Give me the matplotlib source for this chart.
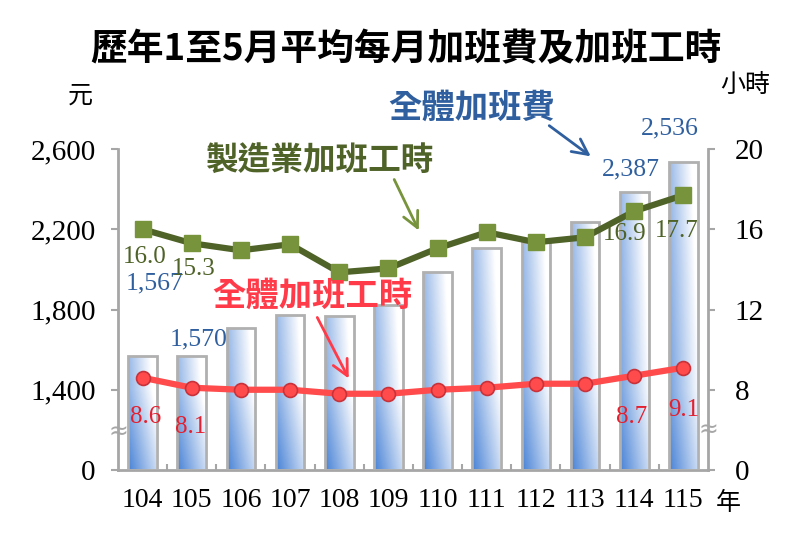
import numpy as np
import matplotlib
matplotlib.use("Agg")
import matplotlib.pyplot as plt
from matplotlib.colors import to_rgb

plt.rcParams['font.family'] = ['Liberation Serif', 'Noto Sans CJK TC', 'DejaVu Sans']
CJK = ['Noto Sans CJK TC', 'DejaVu Sans']

years = ['104', '105', '106', '107', '108', '109', '110', '111', '112', '113', '114', '115']
pay = [1567, 1570, 1710, 1775, 1770, 1820, 1985, 2105, 2135, 2235, 2387, 2536]
mfg_hours = [16.0, 15.3, 14.95, 15.25, 13.85, 14.05, 15.05, 15.85, 15.35, 15.6, 16.9, 17.7]
all_hours = [8.6, 8.1, 8.0, 8.0, 7.6, 7.6, 8.0, 8.1, 8.3, 8.3, 8.7, 9.1]

left_ticks = [0, 1400, 1800, 2200, 2600]
left_labels = ['0', '1,400', '1,800', '2,200', '2,600']
right_ticks = [0, 8, 12, 16, 20]

# labelled points: index -> offset in pixels (dx, dy)
pay_lab = {0: (12, 73), 1: (7, 16), 10: (-3, 22), 11: (-14, 33)}
mfg_lab = {0: (2, -28), 1: (2, -26), 10: (-10, -23), 11: (-7, -36)}
all_lab = {0: (3, -39), 1: (-1, -39), 10: (-3, -41), 11: (0, -42)}

GRAY = '#a6a6a6'
BLUE_T = '#2f5f9e'
GREEN = '#4f6228'
GREEN_M = '#77933c'
RED = '#ff4b4b'
RED_T = '#e3202f'


# broken axes: 0..1400 squeezed into one step, then 400 per step
def fwd_l(v):
    v = np.asarray(v, dtype=float)
    return np.where(v < 1400, v / 1400, (v - 1000) / 400)


def inv_l(p):
    p = np.asarray(p, dtype=float)
    return np.where(p < 1, p * 1400, p * 400 + 1000)


def fwd_r(h):
    h = np.asarray(h, dtype=float)
    return np.where(h < 8, h / 8, (h - 4) / 4)


def inv_r(p):
    p = np.asarray(p, dtype=float)
    return np.where(p < 1, p * 8, p * 4 + 4)


fig = plt.figure(figsize=(8.12, 5.52), dpi=100)
ax = fig.add_axes([118 / 812, 1 - 470 / 552, 590 / 812, 321 / 552])
ax.set_yscale('function', functions=(fwd_l, inv_l))
ax.set_ylim(0, 2600)
ax.set_xlim(-0.5, len(years) - 0.5)

x = np.arange(len(years))
bars = ax.bar(x, pay, width=0.58, facecolor='none', edgecolor='#b0b0b0', linewidth=2, zorder=3)

# gradient fill: blue at bottom-left to white at top-right
u = np.linspace(0, 1, 40)[None, :]
w = np.linspace(0, 1, 80)[:, None]
t = np.clip(0.7 * u + 0.45 * w, 0, 1)
blue = np.array(to_rgb('#4a84d6'))
grad = blue[None, None, :] * (1 - t[..., None]) + np.ones(3)[None, None, :] * t[..., None]
for b in bars:
    x0 = b.get_x()
    im = ax.imshow(grad, extent=(x0, x0 + b.get_width(), 0, b.get_height()),
                   origin='lower', aspect='auto', zorder=2, interpolation='bilinear')
    im.set_clip_path(b)
ax.set_xlim(-0.5, len(years) - 0.5)
ax.set_ylim(0, 2600)

for i, (dx, dy) in pay_lab.items():
    ax.annotate(f'{pay[i]:,}', xy=(i, pay[i]), xytext=(dx, dy), textcoords='offset pixels',
                ha='center', va='center', fontsize=18.5, color=BLUE_T, zorder=6)

ax.set_yticks(left_ticks)
ax.set_yticklabels(left_labels)
ax.set_xticks(x)
ax.set_xticklabels(years)
ax.set_xticks(np.arange(0.5, len(years) - 1, 1), minor=True)
ax.tick_params(axis='x', which='major', length=0, pad=13, labelsize=20)
ax.tick_params(axis='x', which='minor', direction='in', length=4, width=1.5, color=GRAY)
ax.tick_params(axis='y', direction='out', length=5, width=1.5, color=GRAY, pad=11, labelsize=21)
for s in ['top', 'right']:
    ax.spines[s].set_visible(False)
for s in ['left', 'bottom']:
    ax.spines[s].set_color(GRAY)
    ax.spines[s].set_linewidth(2)

ax2 = ax.twinx()
ax2.set_yscale('function', functions=(fwd_r, inv_r))
ax2.set_ylim(0, 20)
ax2.set_yticks(right_ticks)
ax2.set_yticklabels([str(v) for v in right_ticks])
ax2.tick_params(axis='y', direction='out', length=5, width=1.5, color=GRAY, pad=14, labelsize=21)
for s in ['top', 'left', 'bottom']:
    ax2.spines[s].set_visible(False)
ax2.spines['right'].set_color(GRAY)
ax2.spines['right'].set_linewidth(2)

ax2.plot(x, mfg_hours, color=GREEN, lw=4.5, marker='s', markersize=11,
         markerfacecolor=GREEN_M, markeredgecolor=GREEN_M, zorder=4)
ax2.plot(x, all_hours, color=RED, lw=4.5, marker='o', markersize=10,
         markerfacecolor=RED, markeredgecolor='#c8323a', markeredgewidth=1.2, zorder=4)

for i, (dx, dy) in mfg_lab.items():
    ax2.annotate(f'{mfg_hours[i]:.1f}', xy=(i, mfg_hours[i]), xytext=(dx, dy), textcoords='offset pixels',
                 ha='center', va='center', fontsize=18, color=GREEN, zorder=6)
for i, (dx, dy) in all_lab.items():
    ax2.annotate(f'{all_hours[i]:.1f}', xy=(i, all_hours[i]), xytext=(dx, dy), textcoords='offset pixels',
                 ha='center', va='center', fontsize=18, color=RED_T, zorder=6)

H = 552
# break marks on both axes
fig.text(118 / 812, 1 - 432 / H, '≈', ha='center', va='center', fontsize=17, color=GRAY, family='DejaVu Sans')
fig.text(708 / 812, 1 - 430 / H, '≈', ha='center', va='center', fontsize=17, color=GRAY, family='DejaVu Sans')

# titles and units
fig.text(0.5, 1 - 50 / H, '歷年1至5月平均每月加班費及加班工時', ha='center', va='center',
         fontsize=26.5, fontweight='bold', family=CJK)
fig.text(80 / 812, 1 - 96 / H, '元', ha='center', va='center', fontsize=18, family=CJK)
fig.text(745 / 812, 1 - 85 / H, '小時', ha='center', va='center', fontsize=18, family=CJK)
fig.text(728 / 812, 1 - 503 / H, '年', ha='center', va='center', fontsize=18, family=CJK)

# series callouts
fig.text(320 / 812, 1 - 160 / H, '製造業加班工時', ha='center', va='center', fontsize=23.5,
         fontweight='bold', color=GREEN, family=CJK)
fig.text(472 / 812, 1 - 108 / H, '全體加班費', ha='center', va='center', fontsize=24,
         fontweight='bold', color=BLUE_T, family=CJK)
fig.text(312 / 812, 1 - 296 / H, '全體加班工時', ha='center', va='center', fontsize=24,
         fontweight='bold', color='#ff3b4a', family=CJK)

arrows = [((393, 177), (420, 233), GREEN_M),
          ((547, 124), (593, 158), BLUE_T),
          ((316, 315), (350, 381), '#ff3b4a')]
for (x0, y0), (x1, y1), c in arrows:
    ax.annotate('', xy=(x1, H - y1), xytext=(x0, H - y0), xycoords='figure pixels',
                textcoords='figure pixels',
                arrowprops=dict(arrowstyle='->', lw=2, color=c, mutation_scale=28))

fig.savefig('out.png', dpi=100)
